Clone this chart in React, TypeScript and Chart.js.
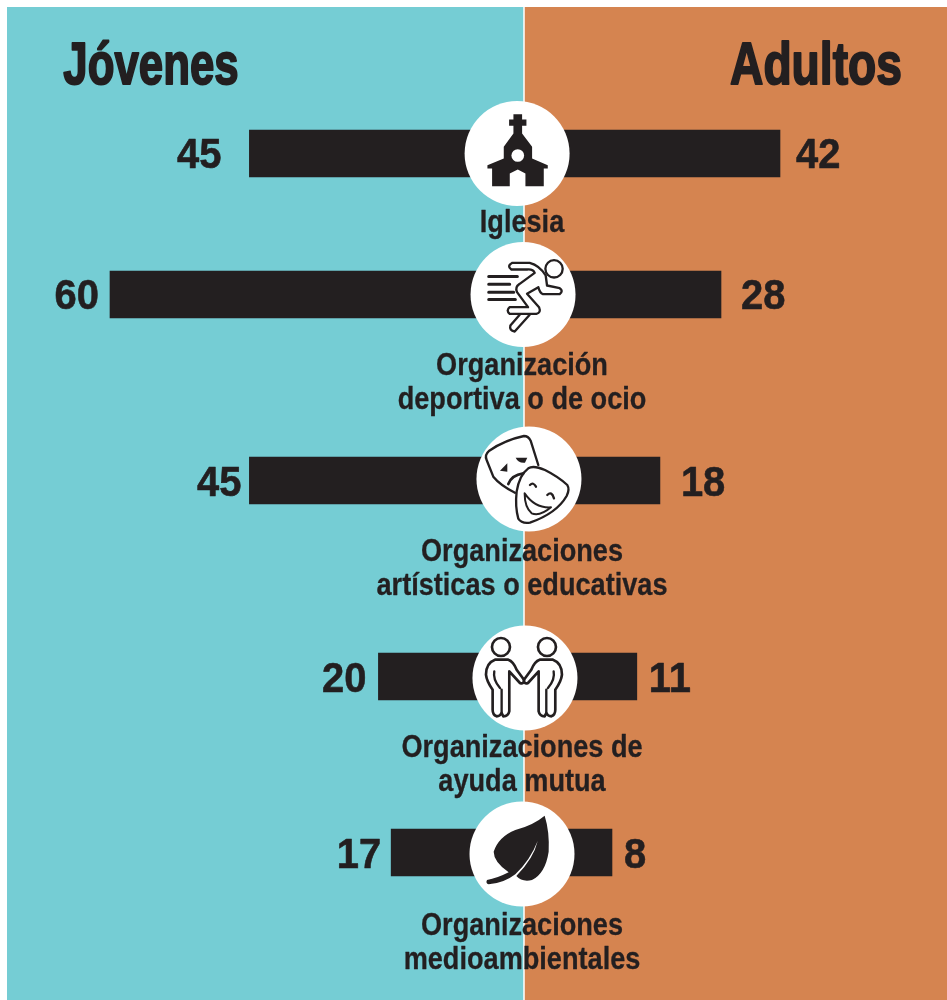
import React, { useEffect, useRef } from "react";
import { Chart, registerables } from "chart.js";

Chart.register(...registerables);

const categories = [
  ["Iglesia"],
  ["Organización", "deportiva o de ocio"],
  ["Organizaciones", "artísticas o educativas"],
  ["Organizaciones de", "ayuda mutua"],
  ["Organizaciones", "medioambientales"],
];
// printed numbers
const youthLabels = [45, 60, 45, 20, 17];
const adultLabels = [42, 28, 18, 11, 8];
// drawn bar lengths (they are not proportional to the printed numbers)
const youthBars = [39.8, 60, 39.8, 21.1, 19.25];
const adultBars = [37.1, 28.55, 19.7, 16.35, 12.75];
const rowCentres = [153.5, 294.5, 480.5, 676.5, 852.5];
const circleOffsets = [-1.0, -0.14, 0.72, 0.14, -0.29];
const circleRows = [153.5, 294.5, 479, 678, 854];
const youthGaps = [28, 11, 8, 12, 10];
const adultGaps = [16, 20, 21, 12, 12];
const numberDrops = [3, 3, 4, 4, 4];
const captionOffsets = [70, 72, 72, 72, 74];

const TEAL = "#75CDD4";
const ORANGE = "#D58450";
const INK = "#231F20";
const W = 947;
const H = 1000;
const ZERO_X = 524;
const PX_PER_UNIT = 6.9;

function inZoom(ctx: CanvasRenderingContext2D, cx: number, cy: number, zx: number, zy: number, draw: () => void) {
  ctx.save();
  ctx.translate(cx, cy);
  ctx.scale(1 / 3, 1 / 3);
  ctx.translate(-zx, -zy);
  ctx.fillStyle = INK;
  ctx.strokeStyle = INK;
  ctx.lineCap = "round";
  ctx.lineJoin = "round";
  draw();
  ctx.restore();
}

const stroke = (ctx: CanvasRenderingContext2D, d: string, w: number) => {
  ctx.lineWidth = w;
  ctx.stroke(new Path2D(d));
};

const icons: ((c: CanvasRenderingContext2D, x: number, y: number) => void)[] = [
  (ctx, x, y) =>
    inZoom(ctx, x, y, 230, 190, () => {
      ctx.fill(new Path2D(
        "M219 72H245V88H258V107H245V130L275 170V205L322 225V235H310V288H255V250L232 238L208 250V288H155V235H141V225L190 205V170L219 130V107H206V88H219Z"
      ));
      ctx.fillStyle = "#fff";
      ctx.beginPath();
      ctx.arc(232, 196, 19, 0, Math.PI * 2);
      ctx.fill();
    }),
  (ctx, x, y) =>
    inZoom(ctx, x, y, 250, 177, () => {
      stroke(ctx, "M147 123H233M147 146H210M147 170H222M147 192H227", 9);
      stroke(ctx, "M369 100A26 26 0 1 1 317 100A26 26 0 1 1 369 100Z", 7);
      stroke(ctx,
        "M218 82L270 82Q300 90 318 120L322 150L360 158Q372 166 360 176L310 176Q300 172 296 155L262 175L298 215Q305 232 290 235L210 235Q198 225 210 215L265 215L232 170Q225 155 240 145L285 112Q280 100 262 102L215 102Q200 92 218 82Z",
        7);
      stroke(ctx, "M240 238L212 270Q208 285 225 288L270 238", 7);
    }),
  (ctx, x, y) =>
    inZoom(ctx, x, y, 237, 177, () => {
      stroke(ctx, "M195 218Q150 195 130 170L110 120Q103 105 118 92Q165 60 222 48Q235 48 242 62L265 135", 7);
      ctx.fill(new Path2D("M150 152L172 130L172 155Z"));
      ctx.fill(new Path2D("M197 113L232 113L225 128Q205 130 197 113Z"));
      stroke(ctx, "M175 192Q185 165 220 160", 8);
      stroke(ctx,
        "M205 296Q195 260 200 215Q208 165 235 145Q250 135 285 150Q325 170 352 195Q360 208 350 228Q320 280 240 308Q215 312 205 296Z",
        7);
      stroke(ctx, "M240 195Q250 185 258 200M292 225Q305 212 312 235", 7);
      stroke(ctx, "M224 220Q255 265 303 262Q270 290 245 280Q224 262 224 220Z", 6);
    }),
  (ctx, x, y) =>
    inZoom(ctx, x, y, 225, 175, () => {
      const person = () => {
        stroke(ctx, "M180 82A27 27 0 1 1 126 82A27 27 0 1 1 180 82Z", 8);
        stroke(ctx,
          "M135 120L175 120Q190 125 200 150L222 180Q222 195 210 190L178 155L178 275Q175 290 160 290L155 280Q150 290 140 290Q128 285 128 270L128 210Q110 185 108 165Q108 130 135 120Z",
          8);
        stroke(ctx, "M155 210L155 280M133 155Q128 180 150 205", 7);
      };
      person();
      ctx.save();
      ctx.translate(444, 0);
      ctx.scale(-1, 1);
      person();
      ctx.restore();
    }),
  (ctx, x, y) =>
    inZoom(ctx, x, y, 215, 177, () => {
      ctx.fill(new Path2D(
        "M283 62Q250 90 195 105Q145 125 130 170Q130 200 175 232Q140 250 110 255Q105 265 115 268Q160 265 195 238Q240 195 262 138Q250 190 198 243Q215 262 245 255Q285 235 295 170Q298 110 283 62Z"
      ));
    }),
];

function condensedText(ctx: CanvasRenderingContext2D, text: string, x: number, y: number, factor: number, fatten = 0) {
  const w = ctx.measureText(text).width;
  ctx.fillText(text, x, y, w * factor);
  if (fatten > 0) {
    ctx.strokeStyle = INK;
    ctx.lineWidth = fatten;
    ctx.lineJoin = "round";
    ctx.strokeText(text, x, y, w * factor);
  }
}

const decoration = {
  id: "decoration",
  beforeDatasetsDraw(chart: any) {
    const { ctx, scales } = chart;
    const zero = scales.x.getPixelForValue(0);
    ctx.save();
    ctx.fillStyle = TEAL;
    ctx.fillRect(7, 7, zero - 7, H - 7);
    ctx.fillStyle = ORANGE;
    ctx.fillRect(zero, 7, W - zero, H - 7);
    ctx.fillStyle = "#fff";
    ctx.fillRect(zero - 0.75, 7, 1.5, H - 7);
    ctx.restore();
  },
  afterDatasetsDraw(chart: any) {
    const { ctx, scales } = chart;
    const zero = scales.x.getPixelForValue(0);
    ctx.save();
    ctx.fillStyle = INK;
    ctx.textBaseline = "middle";
    rowCentres.forEach((row, i) => {
      const cy = scales.y.getPixelForValue(row);
      icons[i](ctx, scales.x.getPixelForValue(circleOffsets[i]), scales.y.getPixelForValue(circleRows[i]));

      ctx.fillStyle = INK;
      ctx.font = "bold 42px 'Liberation Sans'";
      ctx.textAlign = "right";
      condensedText(ctx, String(youthLabels[i]), scales.x.getPixelForValue(-youthBars[i]) - youthGaps[i], cy + numberDrops[i], 0.95, 0.6);
      ctx.textAlign = "left";
      condensedText(ctx, String(adultLabels[i]), scales.x.getPixelForValue(adultBars[i]) + adultGaps[i], cy + numberDrops[i], 0.95, 0.6);

      ctx.font = "bold 31px 'Liberation Sans'";
      ctx.textAlign = "center";
      categories[i].forEach((line, j) => {
        condensedText(ctx, line, zero - 2, cy + captionOffsets[i] + j * 34, 0.875, 0.3);
      });
    });

    ctx.font = "bold 60px 'Liberation Sans'";
    ctx.textAlign = "center";
    condensedText(ctx, "Jóvenes", 151, 67, 0.73, 2);
    condensedText(ctx, "Adultos", 816, 67, 0.77, 2);
    ctx.restore();
  },
};

export default function App() {
  const ref = useRef<HTMLCanvasElement>(null);

  useEffect(() => {
    const chart = new Chart(ref.current!, {
      type: "bar",
      data: {
        datasets: [
          {
            type: "scatter",
            label: "Iconos",
            data: circleOffsets.map((x, i) => ({ x, y: circleRows[i] })),
            backgroundColor: "#fff",
            borderWidth: 0,
            pointRadius: 52.5,
            clip: false,
            order: 0,
          },
          {
            label: "Jóvenes",
            data: youthBars.map((v, i) => ({ x: -v, y: rowCentres[i] })),
            backgroundColor: INK,
            barThickness: 47,
            grouped: false,
            order: 1,
          },
          {
            label: "Adultos",
            data: adultBars.map((v, i) => ({ x: v, y: rowCentres[i] })),
            backgroundColor: INK,
            barThickness: 47,
            grouped: false,
            order: 1,
          },
        ] as any,
      },
      options: {
        indexAxis: "y",
        responsive: false,
        animation: false,
        events: [],
        layout: { padding: 0, autoPadding: false },
        plugins: { legend: { display: false }, tooltip: { enabled: false } },
        scales: {
          x: {
            type: "linear",
            display: false,
            min: -ZERO_X / PX_PER_UNIT,
            max: (W - ZERO_X) / PX_PER_UNIT,
          },
          y: { type: "linear", display: false, reverse: true, offset: false, min: 0, max: H },
        },
      } as any,
      plugins: [decoration],
    });
    return () => chart.destroy();
  }, []);

  return (
    <canvas
      ref={ref}
      width={W}
      height={H}
      style={{ position: "absolute", left: 0, top: 0, display: "block" }}
    />
  );
}
